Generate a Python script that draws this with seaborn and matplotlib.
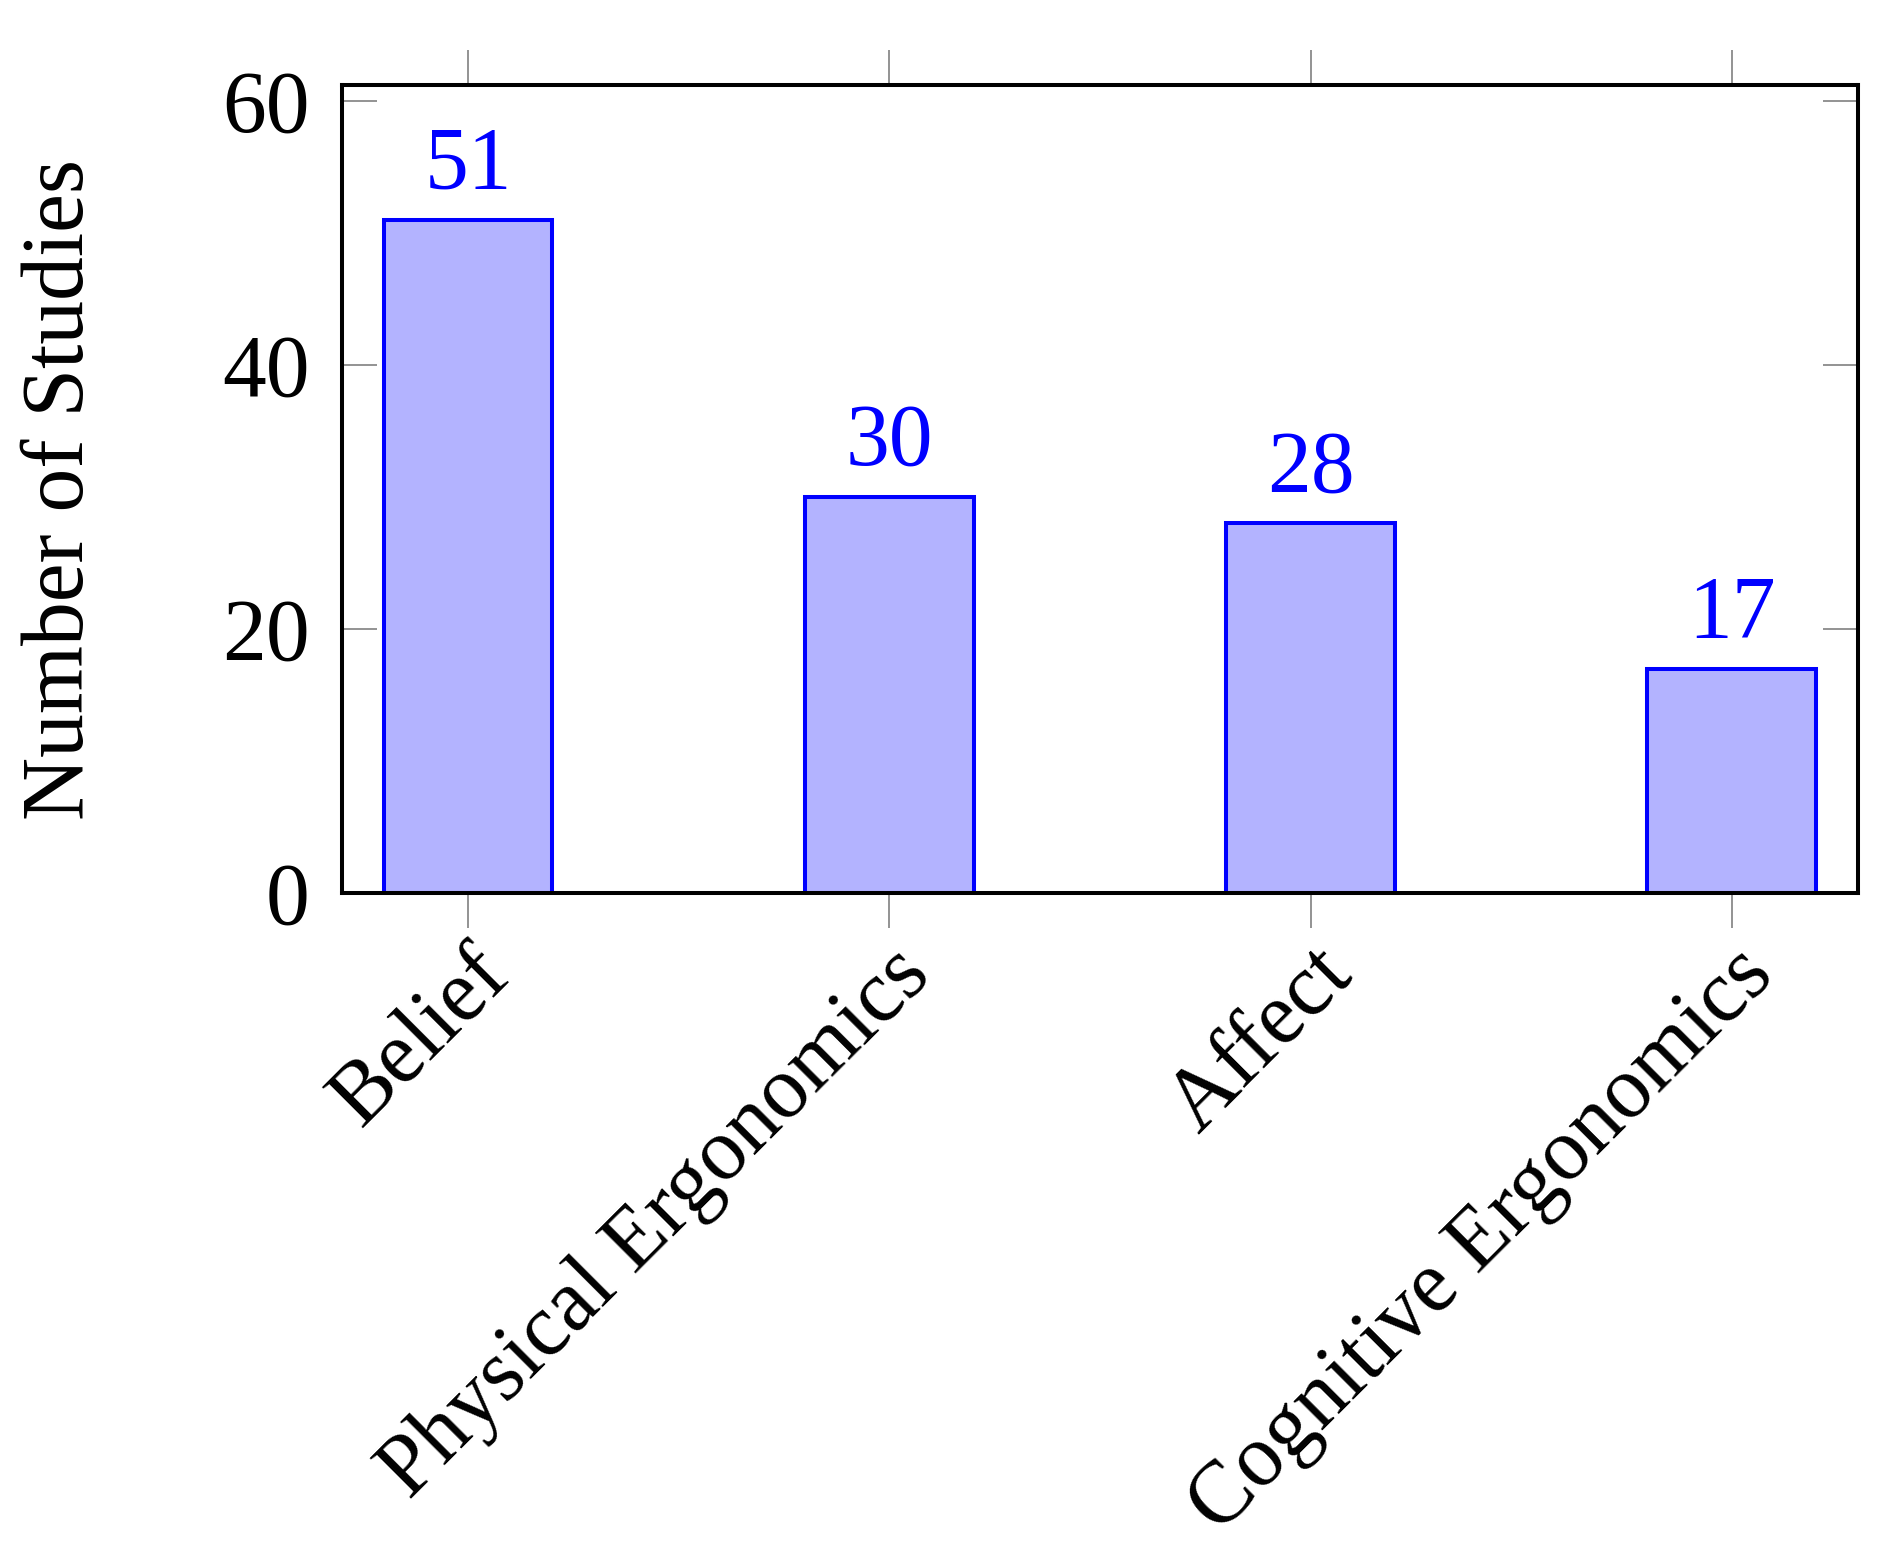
import matplotlib
matplotlib.use("Agg")
import matplotlib.pyplot as plt
import seaborn as sns
import pandas as pd

categories = ["Belief", "Physical Ergonomics", "Affect", "Cognitive Ergonomics"]
values = [51, 30, 28, 17]
yticks = [0, 20, 40, 60]
ylabel = "Number of Studies"

sns.set_theme(style="white")
plt.rcParams["font.family"] = ["Liberation Serif", "DejaVu Serif"]
plt.rcParams["text.color"] = "black"
plt.rcParams["axes.labelcolor"] = "black"
plt.rcParams["xtick.labelcolor"] = "black"
plt.rcParams["ytick.labelcolor"] = "black"

FS = 63
df = pd.DataFrame({"cat": categories, "val": values})

fig = plt.figure(figsize=(18.89, 15.58), dpi=100)
ax = fig.add_axes([0.181, 0.4268, 0.8026, 0.5186])

sns.barplot(data=df, x="cat", y="val", ax=ax, color="#B3B3FF", saturation=1,
            edgecolor="#0000FF", linewidth=2.9, width=0.4)

ax.set_xlim(-0.3, 3.3)
ax.set_ylim(0, 61.2)
ax.set_yticks(yticks)
ax.set_yticklabels([str(t) for t in yticks], fontsize=FS, color="black")
ax.set_xticks(range(len(categories)))
ax.set_xticklabels(categories, fontsize=FS, rotation=45, ha="right",
                   va="top", rotation_mode="anchor", color="black")

for s in ax.spines.values():
    s.set_visible(True)
    s.set_color("black")
    s.set_linewidth(2.9)

ax.tick_params(axis="x", which="major", direction="out", length=25, width=1.2,
               color="#808080", top=True, bottom=True, labeltop=False, pad=4)
ax.tick_params(axis="y", which="major", direction="in", length=25, width=1.2,
               color="#808080", left=True, right=True, labelright=False, pad=23)

ax.set_xlabel("")
ax.set_ylabel(ylabel, fontsize=FS, color="black")
ax.yaxis.set_label_coords(-0.158, 0.5)

for i, v in enumerate(values):
    ax.annotate(str(v), xy=(i, v), xytext=(0, 23), textcoords="offset points",
                ha="center", va="baseline", color="#0000FF", fontsize=FS)

fig.savefig("out.png", dpi=100)
